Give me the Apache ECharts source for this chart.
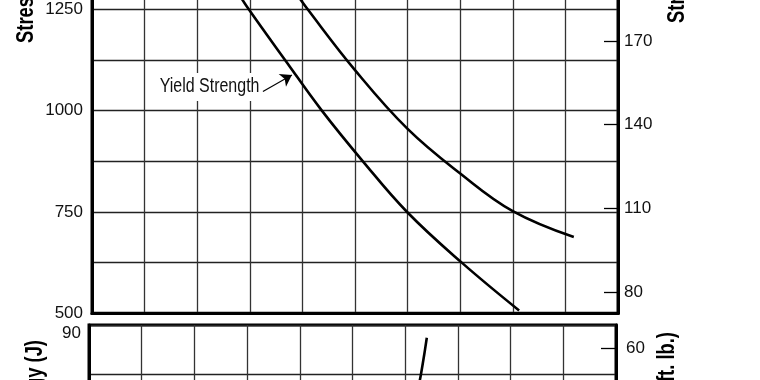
<!DOCTYPE html>
<html>
<head>
<meta charset="utf-8">
<script src="https://cdn.jsdelivr.net/npm/echarts@6/dist/echarts.min.js"></script>
<style>html,body{margin:0;padding:0;background:#fff}#c{width:760px;height:380px}</style>
</head>
<body>
<div id="c"></div>
<script>
// ---- data ----
const yieldX   = [2.78, 2.98, 3.67, 4.37, 5.15, 5.99, 7.03, 8.12];
const yieldY   = [1290, 1250, 1125, 1000, 875, 750, 625, 507];
const tensileX = [3.88, 4.10, 5.00, 6.00, 7.00, 8.00, 9.16];
const tensileY = [1290, 1250, 1100, 955, 845, 752, 688];
const impactX  = [6.41, 6.36, 6.30, 6.26];
const impactJ  = [85.3, 79, 72, 68];
const mpaLabels = [500, 750, 1000, 1250];
const ksiTicks  = [80, 110, 140, 170];
const jLabels   = [90];
const ftlbTicks = [60];

const FONT = "'Liberation Sans', Arial, sans-serif";
const zip = (a, b) => a.map((v, i) => [v, b[i]]);
const MPA_PER_KSI = 6.894757;
const J_PER_FTLB = 1.355818;

const chart = echarts.init(document.getElementById('c'), null, {renderer: 'canvas'});
const gridLine = {show: true, lineStyle: {color: '#222', width: 1.3}};
const vGridLine = {show: true, lineStyle: {color: '#333', width: 1.3}};
const border = {show: true, lineStyle: {color: '#000', width: 3}};
const lbl = {color: '#111', fontSize: 17, fontFamily: FONT};
const curve = {color: '#000', width: 2.6};
const titleStyle = {fontSize: 23, fontWeight: 'bold', fontFamily: FONT, fill: '#000', textVerticalAlign: 'middle'};

chart.setOption({
  animation: false,
  backgroundColor: '#fff',
  grid: [
    {left: 92, right: 142, top: -92, height: 405.3, show: true, borderColor: '#000', borderWidth: 3, outerBoundsMode: 'none', containLabel: false},
    {left: 89, right: 144, top: 325, height: 245, show: true, borderColor: '#000', borderWidth: 3, outerBoundsMode: 'none', containLabel: false}
  ],
  xAxis: [
    {type: 'value', gridIndex: 0, min: 0, max: 10, interval: 1, axisLabel: {show: false}, axisTick: {show: false}, axisLine: border, splitLine: vGridLine},
    {type: 'value', gridIndex: 1, min: 0, max: 10, interval: 1, position: 'top', axisLabel: {show: false}, axisTick: {show: false}, axisLine: border, splitLine: vGridLine}
  ],
  yAxis: [
    {type: 'value', gridIndex: 0, min: 500, max: 1500, interval: 125, axisLine: border, axisTick: {show: false}, splitLine: gridLine,
     axisLabel: Object.assign({margin: 9, padding: [5, 0, 0, 0],
       formatter: v => mpaLabels.includes(v) ? String(v) : ''}, lbl)},
    {type: 'value', gridIndex: 0, position: 'right', min: 500 / MPA_PER_KSI, max: 1500 / MPA_PER_KSI,
     axisLine: border, splitLine: {show: false},
     axisTick: {show: true, inside: true, length: 14, customValues: ksiTicks, lineStyle: {color: '#000', width: 1.3}},
     axisLabel: Object.assign({margin: 6, padding: [0, 0, 5, 0], customValues: ksiTicks}, lbl)},
    {type: 'value', gridIndex: 1, min: 0, max: 90, interval: 18, axisLine: border, axisTick: {show: false}, splitLine: gridLine,
     axisLabel: Object.assign({margin: 8, verticalAlignMaxLabel: 'top',
       formatter: v => jLabels.includes(v) ? String(v) : ''}, lbl)},
    {type: 'value', gridIndex: 1, position: 'right', min: 0, max: 90 / J_PER_FTLB,
     axisLine: border, splitLine: {show: false},
     axisTick: {show: true, inside: true, length: 15, customValues: ftlbTicks, lineStyle: {color: '#000', width: 1.3}},
     axisLabel: Object.assign({margin: 10, padding: [0, 0, 5, 0], customValues: ftlbTicks}, lbl)}
  ],
  series: [
    {type: 'line', name: 'Yield Strength', xAxisIndex: 0, yAxisIndex: 0, data: zip(yieldX, yieldY), smooth: 0.4,
     showSymbol: false, lineStyle: curve, z: 5,
     markLine: {silent: true, symbol: ['none', 'arrow'], symbolSize: 11, label: {show: false},
       lineStyle: {color: '#000', width: 1.2, type: 'solid'}, itemStyle: {color: '#000'},
       data: [[{coord: [3.25, 1047]}, {coord: [3.80, 1088]}]]}},
    {type: 'line', name: 'Tensile Strength', xAxisIndex: 0, yAxisIndex: 0, data: zip(tensileX, tensileY), smooth: 0.4,
     showSymbol: false, lineStyle: curve, z: 5},
    {type: 'line', name: 'Impact Energy', xAxisIndex: 1, yAxisIndex: 2, data: zip(impactX, impactJ), smooth: 0.4,
     showSymbol: false, lineStyle: curve, z: 5}
  ],
  graphic: [
    {type: 'text', x: 158, y: 87, z: 10, scaleX: 0.82, style: {text: 'Yield Strength', fontSize: 19.5, fontFamily: FONT, fill: '#111',
      textAlign: 'left', textVerticalAlign: 'middle', backgroundColor: '#fff', padding: [4, 2]}},
    {type: 'text', x: 27, y: 43, rotation: Math.PI / 2, scaleX: 0.8, style: Object.assign({text: 'Stress (MPa)', textAlign: 'left'}, titleStyle)},
    {type: 'text', x: 678, y: 23, rotation: Math.PI / 2, scaleX: 0.8, style: Object.assign({text: 'Stress (ksi)', textAlign: 'left'}, titleStyle)},
    {type: 'text', x: 36, y: 340, rotation: Math.PI / 2, scaleX: 0.8, style: Object.assign({text: 'Impact Energy (J)', textAlign: 'right'}, titleStyle)},
    {type: 'text', x: 668, y: 332, rotation: Math.PI / 2, scaleX: 0.8, style: Object.assign({text: 'Impact Energy (ft. lb.)', textAlign: 'right'}, titleStyle)}
  ]
});
</script>
</body>
</html>
